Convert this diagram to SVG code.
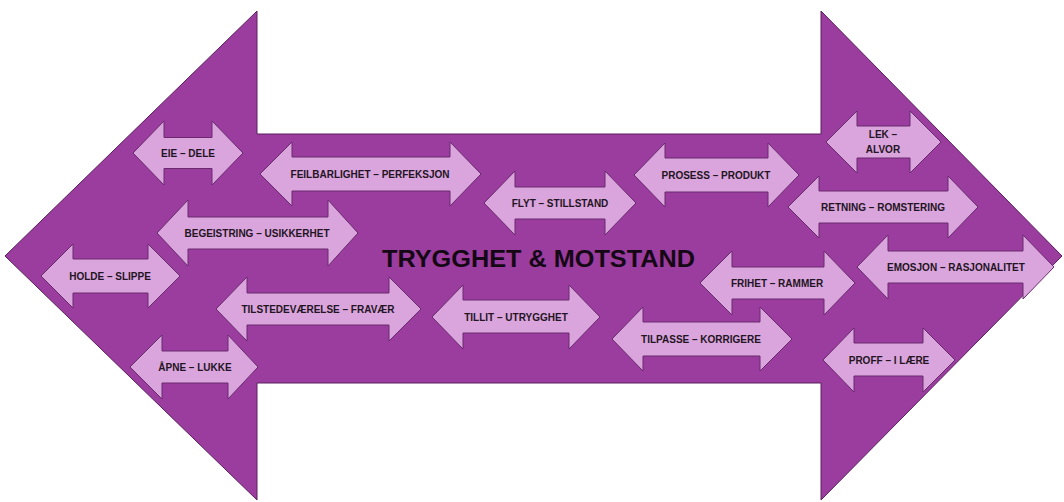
<svg xmlns="http://www.w3.org/2000/svg" width="1064" height="502" viewBox="0 0 1064 502">
<style>
.big{fill:#9b3c9f;stroke:#5a1f5e;stroke-width:1}
.da{fill:#daa5dc;stroke:#6a2a6e;stroke-width:1}
.lb{font-family:"Liberation Sans",Arial,sans-serif;font-weight:bold;font-size:10px;fill:#231423;text-anchor:middle}
.title{font-family:"Liberation Sans",Arial,sans-serif;font-weight:bold;font-size:24px;fill:#150815;text-anchor:middle}
</style>
<rect width="1064" height="502" fill="#fff"/>
<g id="main-arrow">
<polygon class="big" points="5,256 257,11 257,134 821,134 821,11 1062,256 821,500 821,383 257,383 257,500"/>
<text class="title" x="538.5" y="267" textLength="313" lengthAdjust="spacingAndGlyphs">TRYGGHET &amp; MOTSTAND</text>
</g>
<g id="connectors"></g>
<g id="eie-dele">
<polygon class="da" points="133,153 164,121 164,137.5 212,137.5 212,121 243,153 212,185 212,168.5 164,168.5 164,185"/>
<text class="lb" x="188" y="156.5">EIE – DELE</text>
</g>
<g id="feilbarlighet">
<polygon class="da" points="260,174 292,142 292,157 450,157 450,142 481,174 450,206 450,191 292,191 292,206"/>
<text class="lb" x="370" y="177.5">FEILBARLIGHET – PERFEKSJON</text>
</g>
<g id="begeistring">
<polygon class="da" points="157,233 188,200 188,217 328,217 328,200 358,233 328,266 328,249 188,249 188,266"/>
<text class="lb" x="257" y="236.5">BEGEISTRING – USIKKERHET</text>
</g>
<g id="holde">
<polygon class="da" points="41,276 73,244 73,259 148,259 148,244 180,276 148,308 148,293 73,293 73,308"/>
<text class="lb" x="110" y="279.5">HOLDE – SLIPPE</text>
</g>
<g id="tilstedevaerelse">
<polygon class="da" points="216,309 247,277 247,293 389,293 389,277 421,309 389,341 389,325 247,325 247,341"/>
<text class="lb" x="318" y="312.5">TILSTEDEVÆRELSE – FRAVÆR</text>
</g>
<g id="apne">
<polygon class="da" points="130,367 162,335 162,351 228,351 228,335 258,367 228,399 228,383 162,383 162,399"/>
<text class="lb" x="195" y="370.5">ÅPNE – LUKKE</text>
</g>
<g id="flyt">
<polygon class="da" points="484,203 515,171 515,187 605,187 605,171 636,203 605,235 605,219 515,219 515,235"/>
<text class="lb" x="560" y="206.5">FLYT – STILLSTAND</text>
</g>
<g id="tillit">
<polygon class="da" points="432,317 463,285 463,300 569,300 569,285 600,317 569,349 569,333 463,333 463,349"/>
<text class="lb" x="516" y="320.5">TILLIT – UTRYGGHET</text>
</g>
<g id="prosess">
<polygon class="da" points="634,175 665,143 665,158 768,158 768,143 799,175 768,207 768,192 665,192 665,207"/>
<text class="lb" x="716" y="178.5">PROSESS – PRODUKT</text>
</g>
<g id="lek">
<polygon class="da" points="826,142 857,111 857,126 910,126 910,111 941,142 910,173 910,158 857,158 857,173"/>
<text class="lb" x="883" y="138">LEK –</text>
<text class="lb" x="883" y="153">ALVOR</text>
</g>
<g id="retning">
<polygon class="da" points="788,207 819,176 819,191 948,191 948,176 978,207 948,238 948,223 819,223 819,238"/>
<text class="lb" x="883" y="210.5">RETNING – ROMSTERING</text>
</g>
<g id="emosjon">
<polygon class="da" points="857,267 888,235 888,251 1023,251 1023,235 1054,267 1023,299 1023,283 888,283 888,299"/>
<text class="lb" x="956" y="270.5">EMOSJON – RASJONALITET</text>
</g>
<g id="frihet">
<polygon class="da" points="700,283 732,251 732,267 824,267 824,251 855,283 824,315 824,299 732,299 732,315"/>
<text class="lb" x="777" y="286.5">FRIHET – RAMMER</text>
</g>
<g id="tilpasse">
<polygon class="da" points="612,339 643,307 643,322 760,322 760,307 792,339 760,371 760,356 643,356 643,371"/>
<text class="lb" x="701" y="342.5">TILPASSE – KORRIGERE</text>
</g>
<g id="proff">
<polygon class="da" points="823,360 854,328 854,343 923,343 923,328 955,360 923,392 923,376 854,376 854,392"/>
<text class="lb" x="889" y="363.5">PROFF – I LÆRE</text>
</g>
</svg>
